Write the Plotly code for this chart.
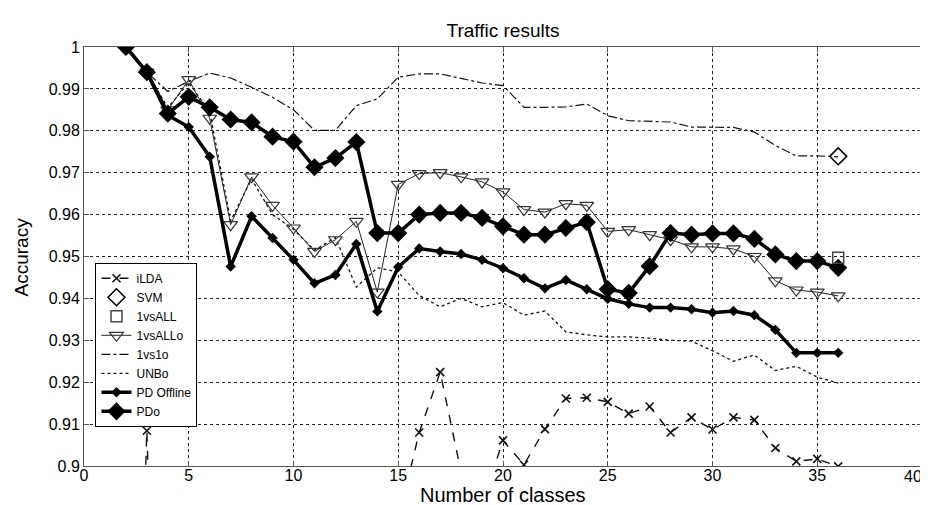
import plotly.graph_objects as go

classes = list(range(2, 37))

ilda = [0.75, 0.9084, 0.75, None, None, None, None, None, None, None, None, None, None,
        0.887, 0.908, 0.9224, 0.8985, 0.891, 0.9061, 0.9003, 0.9088, 0.9161, 0.9163,
        0.9153, 0.9125, 0.9142, 0.908, 0.9116, 0.9087, 0.9116, 0.911, 0.9043, 0.9011,
        0.9017, 0.8999]

svm_x = [36]
svm_y = [0.9739]

ova_x = [36]
ova_y = [0.9497]

ovao = [1.0, 0.994, 0.985, 0.9922, 0.983, 0.9576, 0.969, 0.9622, 0.9568, 0.9512,
        0.954, 0.9584, 0.9415, 0.9672, 0.9698, 0.970, 0.969, 0.9678, 0.9654, 0.9612,
        0.9606, 0.9626, 0.9622, 0.956, 0.9564, 0.9552, 0.954, 0.9523, 0.9523, 0.9518,
        0.950, 0.9442, 0.942, 0.9415, 0.9406]

ovo = [1.0, 0.994, 0.9894, 0.9918, 0.9938, 0.9926, 0.9904, 0.9880, 0.9850, 0.9801,
       0.9801, 0.986, 0.9876, 0.9928, 0.9936, 0.9936, 0.9925, 0.9914, 0.9908, 0.9856,
       0.9856, 0.9857, 0.9864, 0.9836, 0.9824, 0.9823, 0.9821, 0.9809, 0.9809, 0.9808,
       0.9797, 0.9765, 0.974, 0.974, 0.9738]

unbo = [1.0, 0.994, 0.9855, 0.9915, 0.9845, 0.9585, 0.9685, 0.960, 0.9565, 0.9515,
        0.9545, 0.9427, 0.9473, 0.9463, 0.9407, 0.938, 0.940, 0.938, 0.939, 0.936,
        0.937, 0.932, 0.9313, 0.9308, 0.9308, 0.9305, 0.930, 0.9298, 0.9275, 0.925,
        0.9265, 0.9228, 0.9238, 0.9212, 0.9198]

pd_offline = [1.0, 0.994, 0.9837, 0.9809, 0.9738, 0.9476, 0.9596, 0.9544, 0.9492, 0.9436,
              0.9456, 0.953, 0.9369, 0.9475, 0.9519, 0.9512, 0.9506, 0.9492, 0.9472, 0.9448,
              0.9424, 0.9444, 0.9422, 0.9399, 0.9387, 0.9378, 0.9378, 0.9374, 0.9366, 0.937,
              0.936, 0.9325, 0.927, 0.927, 0.927]

pdo = [1.0, 0.994, 0.9841, 0.9881, 0.9856, 0.9827, 0.982, 0.9786, 0.9774, 0.9713,
       0.9735, 0.9773, 0.9556, 0.9556, 0.960, 0.9604, 0.9604, 0.9592, 0.9572, 0.9552,
       0.9552, 0.9568, 0.9582, 0.9422, 0.9413, 0.9477, 0.9556, 0.9552, 0.9555, 0.9555,
       0.9542, 0.9505, 0.9489, 0.9489, 0.9473]

y_ticks = [0.9, 0.91, 0.92, 0.93, 0.94, 0.95, 0.96, 0.97, 0.98, 0.99, 1.0]
y_tick_text = ["0.9", "0.91", "0.92", "0.93", "0.94", "0.95", "0.96", "0.97", "0.98", "0.99", "1"]
x_ticks = [0, 5, 10, 15, 20, 25, 30, 35, 40]
x_tick_text = ["0", "5", "10", "15", "20", "25", "30", "35", "40"]

FONT = "Liberation Sans, Arial, Helvetica, sans-serif"

fig = go.Figure()

fig.add_trace(go.Scatter(x=classes, y=unbo, mode="lines", name="UNBo", legendrank=6,
                         line=dict(color="#111", width=1.3, dash="dot")))
fig.add_trace(go.Scatter(x=classes, y=ovo, mode="lines", name="1vs1o", legendrank=5,
                         line=dict(color="#111", width=1.2, dash="dashdot")))
fig.add_trace(go.Scatter(x=classes, y=ovao, mode="lines+markers", name="1vsALLo", legendrank=4,
                         line=dict(color="#222", width=1),
                         marker=dict(symbol="triangle-down-open", size=12, color="#333",
                                     line=dict(width=1.2))))
fig.add_trace(go.Scatter(x=classes, y=ilda, mode="lines+markers", name="iLDA", legendrank=1,
                         connectgaps=False,
                         line=dict(color="#111", width=1.4, dash="dash"),
                         marker=dict(symbol="x-thin-open", size=8, color="#111",
                                     line=dict(width=1.6))))
fig.add_trace(go.Scatter(x=classes, y=pd_offline, mode="lines+markers", name="PD Offline", legendrank=7,
                         line=dict(color="#000", width=3.5),
                         marker=dict(symbol="diamond", size=8, color="#000")))
fig.add_trace(go.Scatter(x=classes, y=pdo, mode="lines+markers", name="PDo", legendrank=8,
                         line=dict(color="#000", width=3.5),
                         marker=dict(symbol="diamond", size=14, color="#000")))
fig.add_trace(go.Scatter(x=svm_x, y=svm_y, mode="markers", name="SVM", legendrank=2,
                         marker=dict(symbol="diamond-open", size=13, color="#000",
                                     line=dict(width=1.5))))
fig.add_trace(go.Scatter(x=ova_x, y=ova_y, mode="markers", name="1vsALL", legendrank=3,
                         marker=dict(symbol="square-open", size=11, color="#444",
                                     line=dict(width=1.5))))

TICK_FONT = dict(family=FONT, size=16, color="#000")

axis_common = dict(showline=True, linecolor="#555", linewidth=1, mirror="ticks",
                   ticks="inside", ticklen=5, tickcolor="#555", automargin=False,
                   showgrid=True, gridcolor="#222", gridwidth=1, griddash="dot",
                   zeroline=False, tickfont=TICK_FONT)

# last x tick label is drawn as an annotation nudged left so it stays inside the page
fig.update_xaxes(range=[0, 40], tickvals=x_ticks, ticktext=x_tick_text[:-1] + [""],
                 ticklabelstandoff=-5, **axis_common)
fig.update_yaxes(range=[0.9, 1.0], tickvals=y_ticks, ticktext=y_tick_text, **axis_common)

fig.update_layout(
    width=928, height=505,
    margin=dict(l=76, r=14, t=39, b=47),
    paper_bgcolor="white", plot_bgcolor="white",
    title=dict(text="Traffic results", x=0.5334, xanchor="center", y=0.956, yanchor="middle",
               font=dict(family=FONT, size=19, color="#000")),
    showlegend=True,
    legend=dict(x=0.0137, y=0.485, xanchor="left", yanchor="top",
                bgcolor="white", bordercolor="#000", borderwidth=1,
                font=dict(family=FONT, size=12, color="#000"),
                tracegroupgap=0, itemwidth=30),
    annotations=[
        dict(text=x_tick_text[-1], xref="x", yref="paper", x=x_ticks[-1], y=-0.025,
             xanchor="center", yanchor="middle", xshift=-9, showarrow=False,
             font=TICK_FONT),
        dict(text="Number of classes", xref="paper", yref="paper", x=0.5, y=-0.069,
             xanchor="center", yanchor="middle", showarrow=False,
             font=dict(family=FONT, size=20, color="#000")),
        dict(text="Accuracy", xref="paper", yref="paper", x=-0.074, y=0.5,
             xanchor="center", yanchor="middle", textangle=-90, showarrow=False,
             font=dict(family=FONT, size=19, color="#000")),
    ],
)

fig.write_html("out.html")
